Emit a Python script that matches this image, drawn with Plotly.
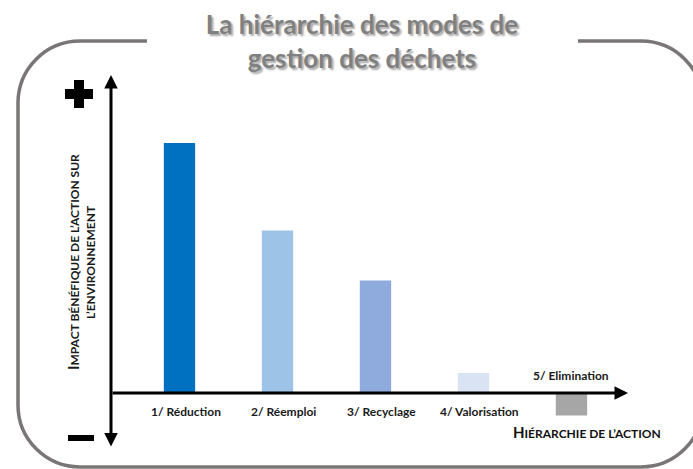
import plotly.graph_objects as go

# data
categories = ["1/ Réduction", "2/ Réemploi", "3/ Recyclage", "4/ Valorisation", "5/ Elimination"]
impact = [100, 65, 45, 8, -9]
bar_colors = ["#0070C0", "#9DC3E6", "#8FAADC", "#DAE3F3", "#A6A6A6"]

W, H = 693, 469
ML, MR, MT, MB = 111, 65, 75, 21
PW, PH = W - ML - MR, H - MT - MB


def px(x):
    return (x - ML) / PW


def py(y):
    return (H - MB - y) / PH


fig = go.Figure()
fig.add_trace(go.Bar(x=categories, y=impact, marker=dict(color=bar_colors, line=dict(width=0)),
                     width=0.32, showlegend=False, hoverinfo="skip"))

label_font = dict(family="Lato", size=12, color="#1a1a1a", weight="bold")
annotations = []
for cat, v in zip(categories, impact):
    if v >= 0:
        annotations.append(dict(x=cat, y=0, xref="x", yref="y", text=cat, showarrow=False,
                                yanchor="top", yshift=-9, xshift=6, font=label_font))
    else:
        annotations.append(dict(x=cat, y=0, xref="x", yref="y", text=cat, showarrow=False,
                                yanchor="bottom", yshift=8, font=label_font))

# axes drawn as arrows
annotations.append(dict(x=0, y=1, xref="paper", yref="paper", ax=0, ay=PH, axref="pixel", ayref="pixel",
                        showarrow=True, arrowhead=2, startarrowhead=2, arrowside="end+start",
                        arrowsize=0.9, startarrowsize=0.9, arrowwidth=3, arrowcolor="black", text=""))
annotations.append(dict(x=1, y=0, xref="paper", yref="y", ax=-PW, ay=0, axref="pixel", ayref="pixel",
                        showarrow=True, arrowhead=2, arrowsize=0.9, arrowwidth=3, arrowcolor="black", text=""))

# small-caps style titles: large first letter, smaller capitals after
sc = "<span style='font-size:12px'>{}</span>"
title_font = dict(family="Lato", size=15, color="#1a1a1a", weight="bold")
annotations.append(dict(x=px(73), y=py(262), xref="paper", yref="paper", textangle=-90, showarrow=False,
                        xanchor="center", yanchor="middle",
                        text="I" + sc.format("MPACT BÉNÉFIQUE DE L’ACTION SUR"), font=title_font))
annotations.append(dict(x=px(90), y=py(262), xref="paper", yref="paper", textangle=-90, showarrow=False,
                        xanchor="center", yanchor="middle",
                        text=sc.format("L’ENVIRONNEMENT"), font=title_font))
annotations.append(dict(x=px(663), y=py(443), xref="paper", yref="paper", xanchor="right", showarrow=False,
                        text="H" + sc.format("IÉRARCHIE DE L’ACTION"),
                        font=dict(family="Lato", size=15, color="#111111", weight="bold")))

# frame with rounded corners, open at the top for the title
r = 62
k = 0.5523 * r
x0, x1, y0, y1 = 18, 703, 41, 467
pts = [
    ("M", [(147, y0)]),
    ("L", [(x0 + r, y0)]),
    ("C", [(x0 + r - k, y0), (x0, y0 + r - k), (x0, y0 + r)]),
    ("L", [(x0, y1 - r)]),
    ("C", [(x0, y1 - r + k), (x0 + r - k, y1), (x0 + r, y1)]),
    ("L", [(x1 - r, y1)]),
    ("C", [(x1 - r + k, y1), (x1, y1 - r + k), (x1, y1 - r)]),
    ("L", [(x1, y0 + r)]),
    ("C", [(x1, y0 + r - k), (x1 - r + k, y0), (x1 - r, y0)]),
    ("L", [(578, y0)]),
]
path = " ".join(cmd + " ".join(f"{px(a):.5f},{py(b):.5f}" for a, b in p) for cmd, p in pts)

shapes = [
    dict(type="path", path=path, xref="paper", yref="paper", line=dict(color="#7A7676", width=3.5)),
    # plus sign
    dict(type="rect", xref="paper", yref="paper", x0=px(65), x1=px(93), y0=py(89), y1=py(99),
         fillcolor="black", line=dict(width=0)),
    dict(type="rect", xref="paper", yref="paper", x0=px(74), x1=px(84), y0=py(80), y1=py(108),
         fillcolor="black", line=dict(width=0)),
    # minus sign
    dict(type="rect", xref="paper", yref="paper", x0=px(68), x1=px(94), y0=py(435), y1=py(441),
         fillcolor="black", line=dict(width=0)),
]

fig.update_layout(
    width=W, height=H, autosize=False,
    margin=dict(l=ML, r=MR, t=MT, b=MB),
    paper_bgcolor="white", plot_bgcolor="white",
    title=dict(text="La hiérarchie des modes de<br>gestion des déchets", x=362 / W, xanchor="center",
               y=1 - 34 / H, yanchor="middle",
               font=dict(family="Lato", size=26, color="#808080", weight="bold",
                         shadow="2px 2px 2px rgba(0,0,0,0.35)")),
    xaxis=dict(visible=False, range=[-0.699, 4.577]),
    yaxis=dict(visible=False, range=[-22, 127.2]),
    annotations=annotations,
    shapes=shapes,
)

# no page margin around the plot
fig.write_html("out.html", config={"displayModeBar": False},
               post_script="document.body.style.margin='0';")
